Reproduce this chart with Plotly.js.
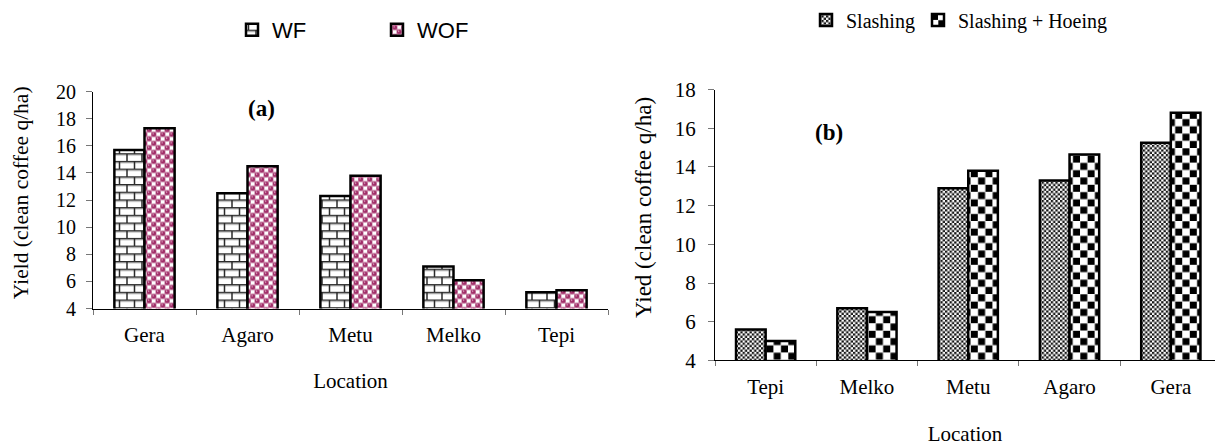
<!DOCTYPE html>
<html>
<head>
<meta charset="utf-8">
<script src="https://cdn.plot.ly/plotly-3.0.1.min.js"></script>
<style>
  html, body { margin: 0; padding: 0; background: #fff; }
  #chart { width: 1215px; height: 446px; }
</style>
</head>
<body>
<div id="chart"></div>
<script>
// (a) yield by location, WF vs WOF
const locationsA = ['Gera', 'Agaro', 'Metu', 'Melko', 'Tepi'];
const yieldWF = [15.7, 12.5, 12.3, 7.1, 5.2];
const yieldWOF = [17.3, 14.5, 13.8, 6.1, 5.35];

// (b) yield by location, slashing vs slashing + hoeing
const locationsB = ['Tepi', 'Melko', 'Metu', 'Agaro', 'Gera'];
const yieldSlashing = [5.6, 6.7, 12.9, 13.3, 15.25];
const yieldSlashHoe = [5.0, 6.5, 13.8, 14.65, 16.8];

const seriesNames = ['WF', 'WOF', 'Slashing', 'Slashing + Hoeing'];
const panelLabels = ['(a)', '(b)'];
const axisTitleX = 'Location';
const axisTitleYA = 'Yield (clean coffee q/ha)';
const axisTitleYB = 'Yied (clean coffee q/ha)';

const SERIF = 'Liberation Serif, Times New Roman, serif';
const SANS = 'Liberation Sans, Arial, sans-serif';
const W = 1215, H = 446;
const px = v => v / W;
const py = v => 1 - v / H;

const barOutline = { color: '#000', width: 2.5 };

function barTrace(name, x, y, xa, ya, legendId) {
  return {
    type: 'bar', name: name, x: x, y: y,
    xaxis: xa, yaxis: ya, legend: legendId,
    marker: { color: '#ffffff', line: barOutline },
    hoverinfo: 'skip'
  };
}

const data = [
  barTrace(seriesNames[0], locationsA, yieldWF, 'x', 'y', 'legend'),
  barTrace(seriesNames[1], locationsA, yieldWOF, 'x', 'y', 'legend2'),
  barTrace(seriesNames[2], locationsB, yieldSlashing, 'x2', 'y2', 'legend3'),
  barTrace(seriesNames[3], locationsB, yieldSlashHoe, 'x2', 'y2', 'legend4')
];

const xCommon = {
  type: 'category', showline: true, linecolor: '#000', linewidth: 1,
  ticks: 'outside', tickson: 'boundaries', ticklen: 5, tickcolor: '#777',
  tickfont: { family: SERIF, size: 21, color: '#000' },
  ticklabelstandoff: 7, showgrid: false, zeroline: false, fixedrange: true
};
const yCommon = {
  showline: true, linecolor: '#000', linewidth: 1,
  ticks: 'outside', ticklen: 6, tickcolor: '#777', dtick: 2,
  showgrid: false, zeroline: false, fixedrange: true
};

const legendBase = (x, y, font) => ({
  x: x, y: y, xanchor: 'left', yanchor: 'middle',
  bgcolor: 'rgba(0,0,0,0)', borderwidth: 0, font: font
});

const layout = {
  width: W, height: H,
  margin: { l: 0, r: 0, t: 0, b: 0 },
  paper_bgcolor: '#fff', plot_bgcolor: 'rgba(0,0,0,0)',
  barmode: 'group', bargap: 0.415, bargroupgap: 0,
  font: { family: SERIF, color: '#000', size: 19 },
  showlegend: true,
  xaxis: Object.assign({}, xCommon, {
    domain: [px(93), px(608)], anchor: 'y', range: [-0.5, 4.5],
    title: { text: axisTitleX, font: { family: SERIF, size: 21 }, standoff: 27 }
  }),
  yaxis: Object.assign({}, yCommon, {
    domain: [py(308), py(90)], anchor: 'x', range: [4, 20],
    tickfont: { family: SERIF, size: 20, color: '#000' }, ticklabelstandoff: 6
  }),
  xaxis2: Object.assign({}, xCommon, {
    domain: [px(715), 1], anchor: 'y2', range: [-0.5, 4.436],
    title: { text: axisTitleX, font: { family: SERIF, size: 21 }, standoff: 29 }
  }),
  yaxis2: Object.assign({}, yCommon, {
    domain: [py(360), py(88)], anchor: 'x2', range: [4, 18],
    tickfont: { family: SERIF, size: 21, color: '#000' }, ticklabelstandoff: 8
  }),
  legend: legendBase(px(232), py(28), { family: SANS, size: 22, color: '#000' }),
  legend2: legendBase(px(377), py(28), { family: SANS, size: 22, color: '#000' }),
  legend3: legendBase(px(806), py(18), { family: SERIF, size: 20, color: '#000' }),
  legend4: legendBase(px(918), py(18), { family: SERIF, size: 20, color: '#000' }),
  annotations: [
    { text: panelLabels[0], xref: 'paper', yref: 'paper', x: px(261), y: py(107),
      xanchor: 'center', yanchor: 'middle', showarrow: false,
      font: { family: SERIF, size: 23, weight: 'bold', color: '#000' } },
    { text: panelLabels[1], xref: 'paper', yref: 'paper', x: px(829), y: py(131),
      xanchor: 'center', yanchor: 'middle', showarrow: false,
      font: { family: SERIF, size: 23, weight: 'bold', color: '#000' } },
    // vertical axis titles
    { text: axisTitleYA, xref: 'paper', yref: 'paper', x: px(21), y: py(192),
      xanchor: 'center', yanchor: 'middle', textangle: -90, showarrow: false,
      font: { family: SERIF, size: 21.5, color: '#000' } },
    { text: axisTitleYB, xref: 'paper', yref: 'paper', x: px(643), y: py(207),
      xanchor: 'center', yanchor: 'middle', textangle: -90, showarrow: false,
      font: { family: SERIF, size: 23, color: '#000' } }
  ]
};

// Fill patterns for the four series: brick, dotted magenta, fine check, coarse check
const patternDefs = `
<pattern id="fillWF" patternUnits="userSpaceOnUse" width="15" height="15.4">
  <rect width="15" height="15.4" fill="#fff"/>
  <path d="M0 2.2H15M0 9.9H15" stroke="#c8c8c8" stroke-width="0.8"/>
  <path d="M0 0.8H15M0 8.5H15" stroke="#2a2a2a" stroke-width="1.5"/>
  <path d="M4 0.8V8.5M11.5 8.5V16.2M11.5 -0.5V0.8" stroke="#2a2a2a" stroke-width="1.5"/>
</pattern>
<pattern id="fillWOF" patternUnits="userSpaceOnUse" width="9" height="9">
  <rect width="9" height="9" fill="#c77fa3"/>
  <rect x="4.8" y="0.5" width="3.6" height="3.6" fill="#fff"/>
  <rect x="0.5" y="4.8" width="3.6" height="3.6" fill="#fff"/>
  <circle cx="2.25" cy="2.25" r="2.3" fill="#a02d68"/>
  <circle cx="6.75" cy="6.75" r="2.3" fill="#a02d68"/>
  <circle cx="1.6" cy="1.5" r="0.75" fill="#e6b8cf"/>
  <circle cx="6.1" cy="6.0" r="0.75" fill="#e6b8cf"/>
</pattern>
<pattern id="fillSlash" patternUnits="userSpaceOnUse" width="4.6" height="4.6">
  <rect width="4.6" height="4.6" fill="#fff"/>
  <rect width="2.3" height="2.3" fill="#151515"/>
  <rect x="2.3" y="2.3" width="2.3" height="2.3" fill="#151515"/>
</pattern>
<pattern id="fillHoe" patternUnits="userSpaceOnUse" width="14.6" height="14.6">
  <rect width="14.6" height="14.6" fill="#fff"/>
  <rect x="0.3" y="0.3" width="7" height="7" fill="#000"/>
  <rect x="7.6" y="7.6" width="7" height="7" fill="#000"/>
</pattern>`;
const fillIds = ['fillWF', 'fillWOF', 'fillSlash', 'fillHoe'];

function applyPatterns(gd) {
  const ns = 'http://www.w3.org/2000/svg';
  const svg = gd.querySelector('svg.main-svg');
  const defs = document.createElementNS(ns, 'defs');
  defs.innerHTML = patternDefs;
  svg.insertBefore(defs, svg.firstChild);

  gd.querySelectorAll('.barlayer .trace').forEach(function (g) {
    const d = g.__data__;
    if (!d || !d[0] || !d[0].trace) return;
    const id = fillIds[d[0].trace.index];
    g.querySelectorAll('path').forEach(function (p) { p.style.fill = 'url(#' + id + ')'; });
  });
  gd.querySelectorAll('g.traces').forEach(function (g) {
    const d = g.__data__;
    if (!d || !d[0] || !d[0].trace) return;
    const id = fillIds[d[0].trace.index];
    g.querySelectorAll('.legendpoints path').forEach(function (p) { p.style.fill = 'url(#' + id + ')'; });
  });
}

const gd = document.getElementById('chart');
Plotly.newPlot(gd, data, layout, { staticPlot: true, displayModeBar: false })
  .then(applyPatterns);
</script>
</body>
</html>
